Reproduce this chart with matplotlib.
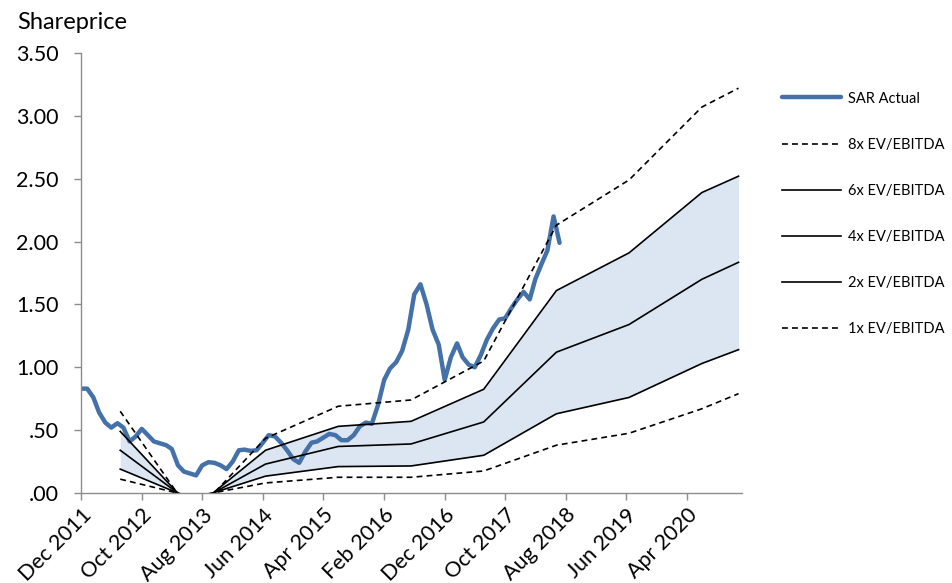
import numpy as np
import pandas as pd
import matplotlib
matplotlib.use('Agg')
from matplotlib import pyplot as plt

plt.rcParams['font.family'] = ['Lato', 'DejaVu Sans']

# SAR share price, monthly from Dec 2011
actual_start = '2011-12-01'
actual = [0.83, 0.83, 0.76, 0.64, 0.56, 0.52, 0.555, 0.52, 0.41, 0.45,
          0.51, 0.46, 0.41, 0.395, 0.38, 0.35, 0.22, 0.17, 0.155, 0.14,
          0.22, 0.245, 0.24, 0.22, 0.19, 0.25, 0.34, 0.345, 0.335, 0.34,
          0.40, 0.46, 0.45, 0.40, 0.34, 0.27, 0.24, 0.33, 0.40, 0.41,
          0.44, 0.47, 0.46, 0.42, 0.42, 0.46, 0.53, 0.56, 0.55, 0.70,
          0.90, 0.99, 1.04, 1.13, 1.30, 1.58, 1.66, 1.50, 1.30, 1.18,
          0.90, 1.08, 1.19, 1.08, 1.02, 1.00, 1.10, 1.22, 1.31, 1.38,
          1.39, 1.47, 1.54, 1.60, 1.54, 1.70, 1.82, 1.93, 2.20, 1.99]

# EV/EBITDA implied share prices at valuation dates
val_dates = ['2012-06-15', '2013-06-15', '2014-06-15', '2015-06-15', '2016-06-15',
             '2017-06-15', '2018-06-15', '2019-06-15', '2020-06-15', '2020-12-16']
ev8 = [0.65, -0.18, 0.435, 0.69, 0.74, 1.05, 2.13, 2.49, 3.07, 3.22]
ev6 = [0.49, -0.13, 0.34, 0.53, 0.57, 0.825, 1.61, 1.91, 2.39, 2.52]
ev4 = [0.34, -0.09, 0.23, 0.37, 0.39, 0.565, 1.12, 1.34, 1.70, 1.835]
ev2 = [0.19, -0.05, 0.134, 0.21, 0.215, 0.30, 0.63, 0.76, 1.03, 1.14]
ev1 = [0.11, -0.03, 0.08, 0.125, 0.125, 0.175, 0.38, 0.475, 0.67, 0.79]

tick_dates = pd.date_range('2011-12-01', periods=11, freq='10MS')
tick_labels = [d.strftime('%b %Y') for d in tick_dates]

act_dates = pd.date_range(actual_start, periods=len(actual), freq='MS')
vd = pd.to_datetime(val_dates)

fig = plt.figure(figsize=(9.52, 5.83), dpi=100)
ax = fig.add_axes([0.0851, 0.1544, 0.7791 - 0.0851, 0.9091 - 0.1544])

ax.fill_between(vd, ev2, ev6, color='#dce6f2', lw=0, zorder=1)
blue, = ax.plot(act_dates, actual, color='#4571a9', lw=3.2,
                solid_capstyle='round', solid_joinstyle='round', zorder=2)
dash = (0, (3.5, 2.5))
l8, = ax.plot(vd, ev8, color='black', lw=1.2, ls=dash, zorder=3)
l6, = ax.plot(vd, ev6, color='black', lw=1.2, zorder=3)
l4, = ax.plot(vd, ev4, color='black', lw=1.2, zorder=3)
l2, = ax.plot(vd, ev2, color='black', lw=1.2, zorder=3)
l1, = ax.plot(vd, ev1, color='black', lw=1.2, ls=dash, zorder=3)

ax.set_ylim(0, 3.5)
ax.set_xlim(pd.Timestamp('2011-12-01'), pd.Timestamp('2021-01-01'))
yt = np.arange(0, 3.51, 0.5)
ax.set_yticks(yt)
ax.set_yticklabels([f'{v:.2f}'.lstrip('0') if v < 1 else f'{v:.2f}' for v in yt])
ax.set_xticks(tick_dates)
ax.set_xticklabels(tick_labels, rotation=45, ha='right', rotation_mode='anchor')

for s in ['top', 'right']:
    ax.spines[s].set_visible(False)
for s in ['left', 'bottom']:
    ax.spines[s].set_color('#8c8c8c')
    ax.spines[s].set_linewidth(1.0)
ax.tick_params(axis='both', colors='#8c8c8c', length=5, width=1.0,
               labelcolor='black', labelsize=15.5)
ax.tick_params(axis='y', pad=11)

fig.text(0.018, 0.962, 'Shareprice', fontsize=17, va='center', ha='left')

fig.legend([blue, l8, l6, l4, l2, l1],
           ['SAR Actual', '8x EV/EBITDA', '6x EV/EBITDA', '4x EV/EBITDA',
            '2x EV/EBITDA', '1x EV/EBITDA'],
           loc='upper left', bbox_to_anchor=(0.821, 0.843), frameon=False,
           fontsize=10.5, handlelength=4.1, handletextpad=0.45,
           labelspacing=2.2, borderpad=0, borderaxespad=0)

fig.savefig('out.png', dpi=100)
plt.close()
